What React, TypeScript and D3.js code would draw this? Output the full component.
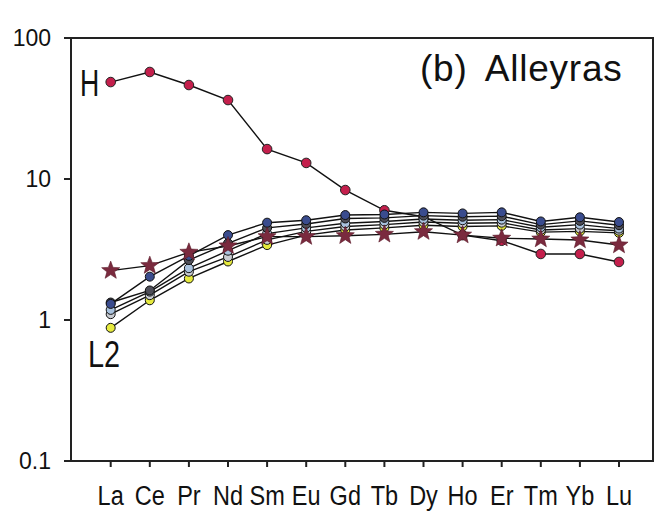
import * as d3 from "d3";

// REE elements (x categories)
const elements = ["La", "Ce", "Pr", "Nd", "Sm", "Eu", "Gd", "Tb", "Dy", "Ho", "Er", "Tm", "Yb", "Lu"];
const yTickValues = [0.1, 1, 10, 100];
const yTickLabels = ["0.1", "1", "10", "100"];

// chondrite-normalised values
const seriesH = [48.7, 57.4, 46.4, 36.3, 16.3, 13.0, 8.35, 6.0, 5.4, 4.0, 3.65, 2.94, 2.94, 2.58];
const seriesStar = [2.24, 2.43, 3.02, 3.35, 3.9, 3.9, 3.96, 4.05, 4.23, 4.0, 3.8, 3.75, 3.69, 3.4];
const seriesA = [1.3, 2.03, 2.85, 4.0, 4.9, 5.1, 5.55, 5.6, 5.8, 5.7, 5.8, 5.0, 5.35, 4.95];
const seriesB = [1.33, 1.62, 2.66, 3.5, 4.5, 4.8, 5.25, 5.3, 5.5, 5.4, 5.45, 4.75, 5.05, 4.7];
const seriesC = [1.18, 1.59, 2.33, 3.1, 4.1, 4.5, 4.85, 5.0, 5.2, 5.1, 5.15, 4.55, 4.75, 4.45];
const seriesD = [1.1, 1.5, 2.2, 2.8, 3.7, 4.25, 4.6, 4.75, 4.95, 4.85, 4.9, 4.35, 4.45, 4.3];
const seriesL2 = [0.88, 1.38, 1.97, 2.6, 3.4, 4.0, 4.35, 4.5, 4.7, 4.6, 4.65, 4.2, 4.25, 4.15];

const circleSeries = [
	{ name: "L2", values: seriesL2, fill: "#e6ea3e" },
	{ name: "D", values: seriesD, fill: "#c9ccd2" },
	{ name: "C", values: seriesC, fill: "#a9c2de" },
	{ name: "B", values: seriesB, fill: "#4e4e58" },
	{ name: "A", values: seriesA, fill: "#3a4c8e" },
];

const W = 657;
const H = 519;
const frame = { left: 71, right: 653, top: 38, bottom: 461 };

function starPath(cx: number, cy: number, outer: number, inner: number) {
	const pts: string[] = [];
	for (let i = 0; i < 10; i++) {
		const r = i % 2 === 0 ? outer : inner;
		const a = -Math.PI / 2 + (i * Math.PI) / 5;
		pts.push(`${cx + r * Math.cos(a)},${cy + r * Math.sin(a)}`);
	}
	return `M${pts.join("L")}Z`;
}

export default function App() {
	const x = d3
		.scalePoint<string>()
		.domain(elements)
		.range([110.7, 619]);
	const y = d3.scaleLog().domain([0.1, 100]).range([frame.bottom, frame.top]);

	const line = d3
		.line<number>()
		.x((_, i) => x(elements[i]) as number)
		.y((d) => y(d));

	const font = "'Liberation Sans', Arial, sans-serif";

	return (
		<svg
			width={W}
			height={H}
			style={{ position: "absolute", left: 0, top: 0, background: "#fff" }}
			fontFamily={font}
		>
			<rect x={0} y={0} width={W} height={H} fill="#fff" />
			{/* frame */}
			<rect
				x={frame.left}
				y={frame.top}
				width={frame.right - frame.left}
				height={frame.bottom - frame.top}
				fill="none"
				stroke="#222"
				strokeWidth={2}
			/>

			{/* y axis ticks */}
			{yTickValues.map((t, i) => (
				<g key={t}>
					<line x1={frame.left - 7} x2={frame.left} y1={y(t)} y2={y(t)} stroke="#222" strokeWidth={2} />
					<text x={51} y={y(t) + 8} textAnchor="end" fontSize={23} fill="#111">
						{yTickLabels[i]}
					</text>
				</g>
			))}

			{/* x axis ticks */}
			{elements.map((el) => (
				<g key={el}>
					<line
						x1={x(el)}
						x2={x(el)}
						y1={frame.bottom}
						y2={frame.bottom + 6}
						stroke="#222"
						strokeWidth={2}
					/>
					<text
						transform={`translate(${x(el)},505) scale(0.84,1)`}
						textAnchor="middle"
						fontSize={28}
						fill="#111"
					>
						{el}
					</text>
				</g>
			))}

			{/* lines */}
			{circleSeries.map((s) => (
				<path key={s.name} d={line(s.values) ?? ""} fill="none" stroke="#111" strokeWidth={1.4} />
			))}
			<path d={line(seriesStar) ?? ""} fill="none" stroke="#111" strokeWidth={1.4} />
			<path d={line(seriesH) ?? ""} fill="none" stroke="#111" strokeWidth={1.4} />

			{/* markers */}
			{seriesH.map((v, i) => (
				<circle
					key={`h-${i}`}
					cx={x(elements[i])}
					cy={y(v)}
					r={4.8}
					fill="#c41f4c"
					stroke="#222"
					strokeWidth={1}
				/>
			))}
			{circleSeries.map((s) =>
				s.values.map((v, i) => (
					<circle
						key={`${s.name}-${i}`}
						cx={x(elements[i])}
						cy={y(v)}
						r={4.5}
						fill={s.fill}
						stroke="#111"
						strokeWidth={1}
					/>
				)),
			)}
			{seriesStar.map((v, i) => (
				<path
					key={`star-${i}`}
					d={starPath(x(elements[i]) as number, y(v), 9.5, 4)}
					fill="#7a2a3e"
					stroke="#5a1a28"
					strokeWidth={0.6}
				/>
			))}

			{/* labels */}
			<text transform="translate(80,96) scale(0.72,1)" fontSize={37} fill="#111">
				H
			</text>
			<text transform="translate(88,367) scale(0.78,1)" fontSize={37} fill="#111">
				L2
			</text>
			<text x={420} y={81} fontSize={37} fill="#111" wordSpacing={8} letterSpacing={0.8}>
				(b) Alleyras
			</text>
		</svg>
	);
}
